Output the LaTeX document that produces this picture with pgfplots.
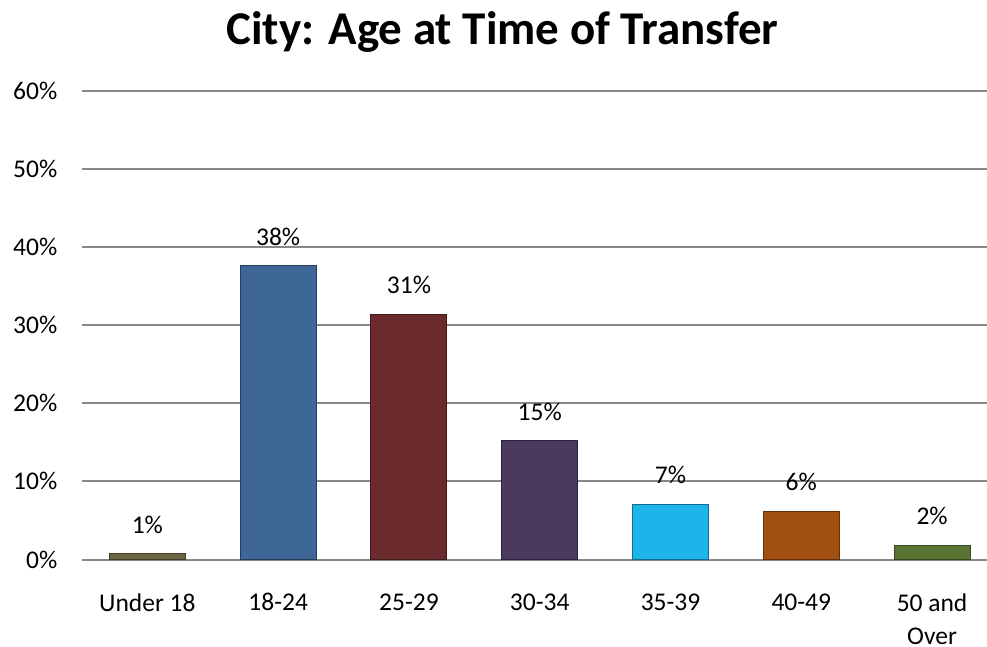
\documentclass[border=0pt]{standalone}
\usepackage{pgfplots}
\pgfplotsset{compat=1.18}
\usepackage{fontspec}
\setmainfont{Carlito}
\definecolor{cA}{HTML}{6A6543}
\definecolor{cB}{HTML}{3E6697}
\definecolor{cC}{HTML}{6B2A2B}
\definecolor{cD}{HTML}{4B3A5D}
\definecolor{cE}{HTML}{1DB5E9}
\definecolor{cF}{HTML}{A24F12}
\definecolor{cG}{HTML}{5A7433}
\definecolor{gridc}{HTML}{888888}
\begin{document}
\begin{tikzpicture}
\begin{axis}[
  scale only axis,
  width=905pt, height=469pt,
  at={(0pt,0pt)}, anchor=south west,
  ybar,
  xmin=-0.5, xmax=6.42,
  ymin=0, ymax=60,
  ytick={0,10,...,60},
  yticklabel={\pgfmathprintnumber{\tick}\%},
  /pgf/number format/assume math mode=true,
  xtick={0,...,6},
  xticklabels={Under 18,18-24,25-29,30-34,35-39,40-49,{50 and\\Over}},
  axis line style={draw=none},
  major tick style={draw=none},
  ymajorgrids,
  grid style={draw=gridc, line width=2pt},
  yticklabel style={font=\fontsize{25.5}{33}\selectfont, inner sep=0pt, anchor=east, xshift=-24.5pt},
  xticklabel style={font=\fontsize{25.5}{33}\selectfont, inner sep=0pt, anchor=north, yshift=-29.5pt, align=center},
  bar width=76pt,
  nodes near coords={\pgfmathprintnumber[fixed,precision=0]{\pgfplotspointmeta}\%},
  every node near coord/.append style={font=\fontsize{25.5}{33}\selectfont, inner sep=0pt, anchor=south, yshift=19.5pt, text=black},
  clip=false,
]
\addplot[bar shift=0pt, fill=cA, draw=cA!60!black, line width=1pt] coordinates {(0,0.8)};
\addplot[bar shift=0pt, fill=cB, draw=cB!60!black, line width=1pt] coordinates {(1,37.6)};
\addplot[bar shift=0pt, fill=cC, draw=cC!60!black, line width=1pt] coordinates {(2,31.4)};
\addplot[bar shift=0pt, fill=cD, draw=cD!60!black, line width=1pt] coordinates {(3,15.2)};
\addplot[bar shift=0pt, fill=cE, draw=cE!60!black, line width=1pt] coordinates {(4,7.1)};
\addplot[bar shift=0pt, fill=cF, draw=cF!60!black, line width=1pt] coordinates {(5,6.2)};
\addplot[bar shift=0pt, fill=cG, draw=cG!60!black, line width=1pt] coordinates {(6,1.85)};
\end{axis}
\node[anchor=base, inner sep=0pt, font=\fontsize{47}{56}\selectfont\bfseries] at (420.5pt,514.5pt) {City: Age at Time of Transfer};
\pgfresetboundingbox
\useasboundingbox (-82pt,-86.5pt) rectangle (905pt,559.5pt);
\end{tikzpicture}
\end{document}
